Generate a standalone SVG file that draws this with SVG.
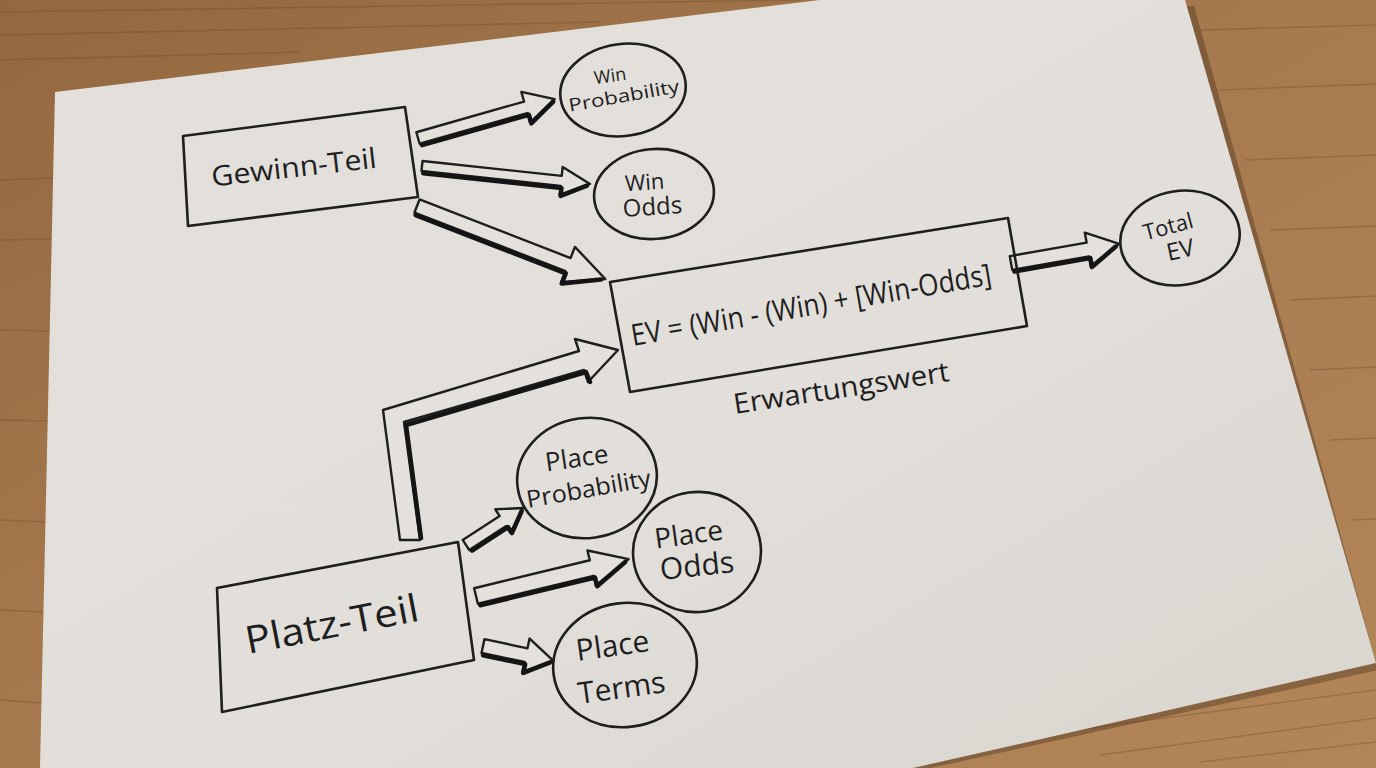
<svg xmlns="http://www.w3.org/2000/svg" width="1376" height="768" viewBox="0 0 1376 768">
<defs>
<linearGradient id="wood" x1="0" y1="0" x2="1" y2="1">
<stop offset="0" stop-color="#94683f"/>
<stop offset="0.5" stop-color="#a77a4f"/>
<stop offset="1" stop-color="#b3865a"/>
</linearGradient>
<linearGradient id="paper" x1="0" y1="0" x2="1" y2="1">
<stop offset="0" stop-color="#e3e0db"/>
<stop offset="0.55" stop-color="#e2dfda"/>
<stop offset="1" stop-color="#d8d4ce"/>
</linearGradient>
<style>
.ln{fill:none;stroke:#1e1e1e;stroke-width:2.6;stroke-linejoin:round;stroke-linecap:round}
.ar{fill:#e4e1dc;stroke:#1e1e1e;stroke-width:2.4;stroke-linejoin:round}
.sh{fill:none;stroke:#141414;stroke-width:4.5;stroke-linejoin:round;stroke-linecap:round}
.t{font-family:"Open Sans","Liberation Sans",sans-serif;fill:#1e1e1e;text-anchor:middle}
.g{stroke:#5e3b1c;stroke-width:1.5;fill:none;opacity:0.25}
</style>
</defs>
<rect width="1376" height="768" fill="url(#wood)"/>
<g class="g">
<path d="M0 12 L800 0"/><path d="M0 35 L600 22"/><path d="M0 60 L300 52"/>
<path d="M0 180 L55 178"/><path d="M0 240 L52 239"/><path d="M0 330 L50 331"/><path d="M0 420 L48 421"/><path d="M0 520 L46 522"/><path d="M0 610 L44 612"/><path d="M0 700 L42 703"/>
<path d="M1200 30 L1376 25"/><path d="M1220 90 L1376 84"/><path d="M1245 160 L1376 155"/><path d="M1270 230 L1376 226"/><path d="M1290 300 L1376 296"/><path d="M1310 370 L1376 367"/><path d="M1330 440 L1376 438"/><path d="M1350 520 L1376 519"/>
<path d="M1000 740 L1376 690"/><path d="M1100 755 L1376 718"/><path d="M1200 762 L1376 742"/>
</g>
<polygon points="57,95 822,3 1192,3 1376,667 915,768 42,768" fill="#3a2615" opacity="0.35" transform="translate(2,3)"/>
<polygon id="paper-sheet" points="55,92 820,0 1185,0 1376,663 913,768 40,768" fill="url(#paper)"/>

<g id="connectors">
<g transform="translate(418,138) rotate(-15.9)"><polygon class="ar" points="0,-6 112,-6 112,-16 142,0 112,16 112,6 0,6"/><polyline class="sh" points="2,8 113,8 113,17 140,2"/></g>
<g transform="translate(422,166) rotate(6.1)"><polygon class="ar" points="0,-5 140,-5 140,-14 169,0 140,14 140,5 0,5"/><polyline class="sh" points="2,7 141,7 141,15 166,2"/></g>
<g transform="translate(417,206) rotate(21.2)"><polygon class="ar" points="0,-7 162,-7 162,-19 202,0 162,19 162,7 0,7"/><polyline class="sh" points="2,9 163,9 163,20 198,2"/></g>
<g transform="translate(1011,263) rotate(-10)"><polygon class="ar" points="0,-7 78,-7 78,-17 110,0 78,17 78,7 0,7"/><polyline class="sh" points="2,9 79,9 79,18 106,2"/></g>
<g transform="translate(466,545) rotate(-33)"><polygon class="ar" points="0,-6 44,-6 44,-14 68,0 44,14 44,6 0,6"/><polyline class="sh" points="2,8 45,8 45,15 65,2"/></g>
<g transform="translate(476,596) rotate(-13.6)"><polygon class="ar" points="0,-8 119,-8 119,-18 157,0 119,18 119,8 0,8"/><polyline class="sh" points="2,10 120,10 120,19 153,2"/></g>
<g transform="translate(483,646) rotate(12)"><polygon class="ar" points="0,-7 44,-7 44,-17 72,0 44,17 44,7 0,7"/><polyline class="sh" points="2,9 45,9 45,18 69,2"/></g>
<polygon class="ar" points="400,540 383,410 579,351 575,339 618,350 588,382 584,370 404,422 420,540"/>
<polyline class="sh" points="421,538 406,425 586,372 590,382"/>
</g>

<g id="gewinn-teil">
<polygon class="ln" points="183,136 405,107 418,197 188,226"/>
<text class="t" font-size="28" transform="translate(295,177) rotate(-6.5)" textLength="166" lengthAdjust="spacingAndGlyphs">Gewinn-Teil</text>
</g>
<g id="win-probability">
<ellipse class="ln" cx="623" cy="90" rx="63" ry="46" transform="rotate(-8 623 90)"/>
<text class="t" font-size="18" transform="translate(611,82) rotate(-8)">Win</text>
<text class="t" font-size="18" transform="translate(625,102) rotate(-10)" textLength="112" lengthAdjust="spacingAndGlyphs">Probability</text>
</g>
<g id="win-odds">
<ellipse class="ln" cx="654" cy="194" rx="60" ry="45" transform="rotate(-5 654 194)"/>
<text class="t" font-size="22" transform="translate(645,190) rotate(-4)">Win</text>
<text class="t" font-size="24" transform="translate(653,215) rotate(-4)">Odds</text>
</g>
<g id="ev-box">
<polygon class="ln" points="610,282 1008,218 1027,326 630,392"/>
<text class="t" font-size="30" style="text-anchor:start" transform="translate(633,346) rotate(-9.7)" textLength="365" lengthAdjust="spacingAndGlyphs">EV = (Win - (Win) + [Win-Odds]</text>
</g>
<text id="erwartungswert" class="t" font-size="28" style="text-anchor:start" transform="translate(735,414) rotate(-8.7)" textLength="218" lengthAdjust="spacingAndGlyphs">Erwartungswert</text>
<g id="total-ev">
<ellipse class="ln" cx="1180" cy="238" rx="60" ry="47" transform="rotate(-10 1180 238)"/>
<text class="t" font-size="22" transform="translate(1170,234) rotate(-15)">Total</text>
<text class="t" font-size="24" transform="translate(1182,258) rotate(-12)">EV</text>
</g>
<g id="platz-teil">
<polygon class="ln" points="217,588 458,542 474,660 222,712"/>
<text class="t" font-size="38" style="text-anchor:start" transform="translate(248,654) rotate(-11)" textLength="176" lengthAdjust="spacingAndGlyphs">Platz-Teil</text>
</g>
<g id="place-probability">
<ellipse class="ln" cx="587" cy="478" rx="70" ry="60" transform="rotate(-8 587 478)"/>
<text class="t" font-size="26" transform="translate(578,467) rotate(-8)">Place</text>
<text class="t" font-size="24" transform="translate(590,497) rotate(-10)" textLength="126" lengthAdjust="spacingAndGlyphs">Probability</text>
</g>
<g id="place-odds">
<ellipse class="ln" cx="697" cy="552" rx="64" ry="60" transform="rotate(-8 697 552)"/>
<text class="t" font-size="28" transform="translate(690,544) rotate(-8)">Place</text>
<text class="t" font-size="30" transform="translate(698,576) rotate(-6)">Odds</text>
</g>
<g id="place-terms">
<ellipse class="ln" cx="625" cy="665" rx="72" ry="62" transform="rotate(-8 625 665)"/>
<text class="t" font-size="30" transform="translate(614,656) rotate(-8)">Place</text>
<text class="t" font-size="30" transform="translate(623,698) rotate(-8)">Terms</text>
</g>
</svg>
